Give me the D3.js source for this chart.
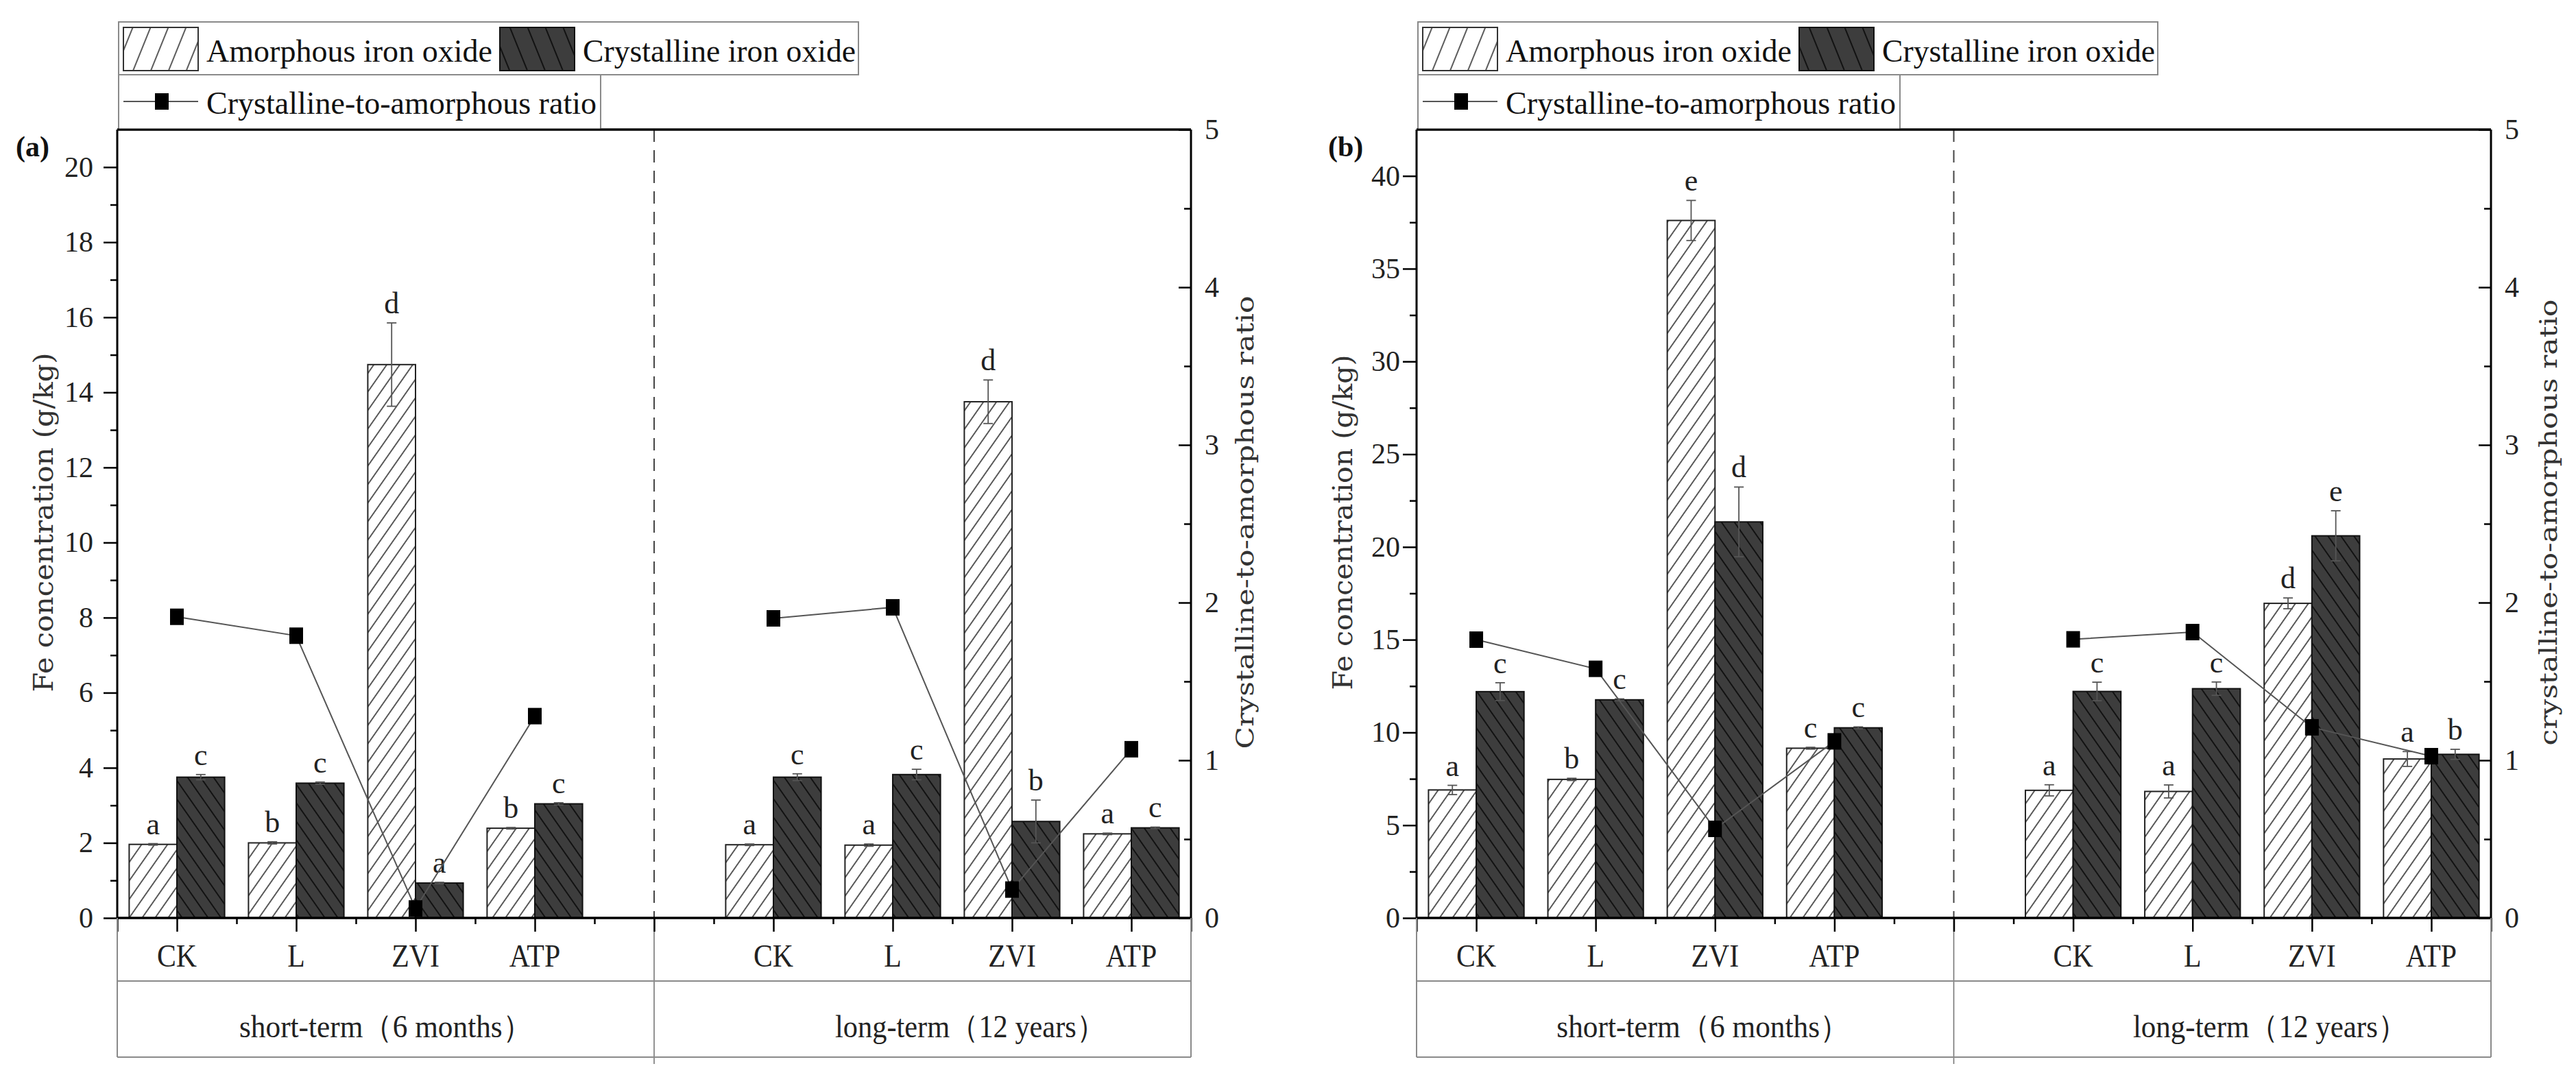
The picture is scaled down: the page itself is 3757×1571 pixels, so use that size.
<!DOCTYPE html>
<html><head><meta charset="utf-8">
<script src="https://cdn.jsdelivr.net/npm/d3@7"></script>
<style>body{margin:0;background:#fff} svg{display:block}</style>
</head><body>
<script>
// ---------- data ----------
const categories = ["CK", "L", "ZVI", "ATP"];
const groupLabels = ["short-term（6 months）", "long-term（12 years）"];
const xPositions = [1, 3, 5, 7, 11, 13, 15, 17];   // category slots (short-term 4, long-term 4)

// panel (a)
const aAmorph      = [1.96, 2.00, 14.74, 2.39,  1.95, 1.94, 13.75, 2.24];
const aAmorphErr   = [0.02, 0.03, 1.11, 0.02,   0.02, 0.03, 0.58, 0.02];
const aCryst       = [3.75, 3.59, 0.93, 3.04,   3.75, 3.82, 2.57, 2.40];
const aCrystErr    = [0.07, 0.03, 0.02, 0.03,   0.09, 0.14, 0.57, 0.02];
const aRatio       = [1.91, 1.79, 0.06, 1.28,   1.90, 1.97, 0.18, 1.07];
const aAmorphLetters = ["a", "b", "d", "b",  "a", "a", "d", "a"];
const aCrystLetters  = ["c", "c", "a", "c",  "c", "c", "b", "c"];
const aLeftMajor = [0, 2, 4, 6, 8, 10, 12, 14, 16, 18, 20];
const aLeftMinor = [1, 3, 5, 7, 9, 11, 13, 15, 17, 19];

// panel (b)
const bAmorph      = [6.90, 7.47, 37.60, 9.15,  6.88, 6.82, 16.96, 8.57];
const bAmorphErr   = [0.25, 0.06, 1.08, 0.05,   0.30, 0.35, 0.29, 0.40];
const bCryst       = [12.20, 11.76, 21.35, 10.25, 12.21, 12.36, 20.60, 8.82];
const bCrystErr    = [0.48, 0.05, 1.88, 0.05,   0.50, 0.36, 1.35, 0.27];
const bRatio       = [1.765, 1.58, 0.565, 1.12,  1.767, 1.813, 1.209, 1.026];
const bAmorphLetters = ["a", "b", "e", "c",  "a", "a", "d", "a"];
const bCrystLetters  = ["c", "c", "d", "c",  "c", "c", "e", "b"];
const bLeftMajor = [0, 5, 10, 15, 20, 25, 30, 35, 40];
const bLeftMinor = [2.5, 7.5, 12.5, 17.5, 22.5, 27.5, 32.5, 37.5];

const rightMajor = [0, 1, 2, 3, 4, 5];
const rightMinor = [0.5, 1.5, 2.5, 3.5, 4.5];
const xMajor = [0, 1, 3, 5, 7, 9, 11, 13, 15, 17, 18];
const xMinor = [2, 4, 6, 8, 10, 12, 14, 16];

const legendLabels = ["Amorphous iron oxide", "Crystalline iron oxide", "Crystalline-to-amorphous ratio"];
const leftTitle = "Fe concentration (g/kg)";

// ---------- layout ----------
const W = 3757, H = 1571;
const yTop = 189, yZero = 1339;
const SERIF = "'Liberation Serif','Times New Roman',serif";
const SERIF2 = "'DejaVu Serif',serif";

const svg = d3.select("body").append("svg").attr("width", W).attr("height", H)
  .style("background", "#fff");
const defs = svg.append("defs");
function hatch(id, angle, s, bg, fg, sw) {
  const p = defs.append("pattern").attr("id", id).attr("patternUnits", "userSpaceOnUse")
    .attr("width", s).attr("height", s).attr("patternTransform", `rotate(${angle})`);
  p.append("rect").attr("width", s).attr("height", s).attr("fill", bg);
  p.append("line").attr("x1", s / 2).attr("x2", s / 2).attr("y1", -2).attr("y2", s + 2)
    .attr("stroke", fg).attr("stroke-width", sw);
}
hatch("hA", 35, 15.5, "#fff", "#333", 1.6);
hatch("hC", -35, 15.5, "#3d3d3d", "#0d0d0d", 1.8);
hatch("hAL", 22, 24, "#fff", "#333", 1.6);
hatch("hCL", -22, 24, "#3d3d3d", "#0d0d0d", 1.8);

const panels = [
  { x0: 171, x1: 1737, yMax: 21, amorph: aAmorph, amorphErr: aAmorphErr, cryst: aCryst, crystErr: aCrystErr,
    ratio: aRatio, la: aAmorphLetters, lc: aCrystLetters, major: aLeftMajor, minor: aLeftMinor,
    tag: "(a)", tagX: 23, labelGap: 35, rightTitle: "Crystalline-to-amorphous ratio",
    leftLen: 495, rightLen: 661, rightOff: 78, shortAt: 4.5, longAt: 14.3, shortLen: 427, longLen: 394 },
  { x0: 2066, x1: 3633, yMax: 42.5, amorph: bAmorph, amorphErr: bAmorphErr, cryst: bCryst, crystErr: bCrystErr,
    ratio: bRatio, la: bAmorphLetters, lc: bCrystLetters, major: bLeftMajor, minor: bLeftMinor,
    tag: "(b)", tagX: 1937, labelGap: 24, rightTitle: "crystalline-to-amorphous ratio",
    leftLen: 489, rightLen: 651, rightOff: 83, shortAt: 4.8, longAt: 14.3, shortLen: 427, longLen: 400 }
];

function squeeze(sel, f) {
  sel.each(function () {
    const w = this.getComputedTextLength();
    d3.select(this).attr("textLength", w * f).attr("lengthAdjust", "spacingAndGlyphs");
  });
}

panels.forEach(P => {
  const g = svg.append("g");
  const x = d3.scaleLinear().domain([0, 18]).range([P.x0, P.x1]);
  const y = d3.scaleLinear().domain([0, P.yMax]).range([yZero, yTop]);
  const yR = d3.scaleLinear().domain([0, 5]).range([yZero, yTop]);
  const bw = x(0.8) - x(0);

  const rows = xPositions.map((p, i) => ({
    p, a: P.amorph[i], ae: P.amorphErr[i], c: P.cryst[i], ce: P.crystErr[i],
    r: P.ratio[i], la: P.la[i], lc: P.lc[i], cat: categories[i % 4]
  }));

  // bars
  g.selectAll(".ba").data(rows).join("rect")
    .attr("x", d => x(d.p) - bw).attr("width", bw)
    .attr("y", d => y(d.a)).attr("height", d => yZero - y(d.a))
    .attr("fill", "url(#hA)").attr("stroke", "#222").attr("stroke-width", 2);
  g.selectAll(".bc").data(rows).join("rect")
    .attr("x", d => x(d.p)).attr("width", bw)
    .attr("y", d => y(d.c)).attr("height", d => yZero - y(d.c))
    .attr("fill", "url(#hC)").attr("stroke", "#111").attr("stroke-width", 2);

  // error bars
  const errs = [];
  rows.forEach(d => {
    errs.push({ cx: x(d.p) - bw / 2, v: d.a, e: d.ae, l: d.la });
    errs.push({ cx: x(d.p) + bw / 2, v: d.c, e: d.ce, l: d.lc });
  });
  const eg = g.append("g").attr("stroke", "#555").attr("stroke-width", 1.8);
  errs.forEach(d => {
    eg.append("line").attr("x1", d.cx).attr("x2", d.cx).attr("y1", y(d.v - d.e)).attr("y2", y(d.v + d.e));
    eg.append("line").attr("x1", d.cx - 7).attr("x2", d.cx + 7).attr("y1", y(d.v + d.e)).attr("y2", y(d.v + d.e));
    eg.append("line").attr("x1", d.cx - 7).attr("x2", d.cx + 7).attr("y1", y(d.v - d.e)).attr("y2", y(d.v - d.e));
  });
  // letters
  g.selectAll(".lt").data(errs).join("text")
    .attr("x", d => d.cx).attr("y", d => y(d.v + d.e) - 14)
    .attr("text-anchor", "middle").attr("font-family", SERIF).attr("font-size", 44).attr("fill", "#222")
    .text(d => d.l);

  // separator
  g.append("line").attr("x1", x(9)).attr("x2", x(9)).attr("y1", yTop).attr("y2", yZero)
    .attr("stroke", "#444").attr("stroke-width", 2).attr("stroke-dasharray", "18,12");
  g.append("line").attr("x1", x(9)).attr("x2", x(9)).attr("y1", yZero).attr("y2", 1552)
    .attr("stroke", "#777").attr("stroke-width", 1.6);

  // ratio lines + markers
  const line = d3.line().x(d => x(d.p)).y(d => yR(d.r));
  [rows.slice(0, 4), rows.slice(4)].forEach(seg => {
    g.append("path").attr("d", line(seg)).attr("fill", "none").attr("stroke", "#555").attr("stroke-width", 2);
  });
  g.selectAll(".mk").data(rows).join("rect")
    .attr("x", d => x(d.p) - 10).attr("y", d => yR(d.r) - 12).attr("width", 20).attr("height", 24)
    .attr("fill", "#000");

  // axes ticks
  function styleAxis(sel, fs) {
    sel.select(".domain").remove();
    sel.attr("color", "#000");
    sel.selectAll(".tick line").attr("stroke-width", 2.5);
    sel.selectAll("text").attr("font-family", SERIF).attr("font-size", fs).attr("fill", "#222");
  }
  g.append("g").attr("transform", `translate(${P.x0},0)`)
    .call(d3.axisLeft(y).tickValues(P.major).tickSize(20).tickPadding(P.labelGap - 20).tickFormat(d3.format("d")))
    .call(s => styleAxis(s, 42));
  g.append("g").attr("transform", `translate(${P.x0},0)`)
    .call(d3.axisLeft(y).tickValues(P.minor).tickSize(10).tickFormat(""))
    .call(s => styleAxis(s, 42));
  g.append("g").attr("transform", `translate(${P.x1},0)`)
    .call(d3.axisRight(yR).tickValues(rightMajor).tickSizeInner(-18).tickSizeOuter(0).tickPadding(20).tickFormat(d3.format("d")))
    .call(s => styleAxis(s, 42));
  g.append("g").attr("transform", `translate(${P.x1},0)`)
    .call(d3.axisRight(yR).tickValues(rightMinor).tickSizeInner(-10).tickSizeOuter(0).tickFormat(""))
    .call(s => styleAxis(s, 42));
  g.append("g").attr("transform", `translate(0,${yZero})`)
    .call(d3.axisBottom(x).tickValues(xMajor).tickSize(20).tickFormat(""))
    .call(s => styleAxis(s, 42));
  g.append("g").attr("transform", `translate(0,${yZero})`)
    .call(d3.axisBottom(x).tickValues(xMinor).tickSize(9).tickFormat(""))
    .call(s => styleAxis(s, 42));

  // frame lines
  const fl = g.append("g").attr("stroke", "#000");
  fl.append("line").attr("x1", P.x0).attr("x2", P.x0).attr("y1", yTop).attr("y2", yZero).attr("stroke-width", 3);
  fl.append("line").attr("x1", P.x1).attr("x2", P.x1).attr("y1", yTop).attr("y2", yZero).attr("stroke-width", 3);
  fl.append("line").attr("x1", P.x0).attr("x2", P.x1).attr("y1", yTop).attr("y2", yTop).attr("stroke-width", 3);
  fl.append("line").attr("x1", P.x0 - 1).attr("x2", P.x1 + 1).attr("y1", yZero).attr("y2", yZero).attr("stroke-width", 3.5);

  // category box
  const cb = g.append("g").attr("stroke", "#8a8a8a").attr("stroke-width", 2);
  cb.append("line").attr("x1", P.x0).attr("x2", P.x0).attr("y1", yZero).attr("y2", 1542);
  cb.append("line").attr("x1", P.x1).attr("x2", P.x1).attr("y1", yZero).attr("y2", 1542);
  cb.append("line").attr("x1", P.x0).attr("x2", P.x1).attr("y1", 1431).attr("y2", 1431);
  cb.append("line").attr("x1", P.x0).attr("x2", P.x1).attr("y1", 1542).attr("y2", 1542);

  g.selectAll(".cat").data(rows).join("text")
    .attr("x", d => x(d.p)).attr("y", 1410).attr("text-anchor", "middle")
    .attr("font-family", SERIF).attr("font-size", 47).attr("fill", "#222").text(d => d.cat)
    .call(s => squeeze(s, 0.89));
  g.append("text").attr("x", x(P.shortAt)).attr("y", 1513).attr("text-anchor", "middle")
    .attr("font-family", SERIF).attr("font-size", 46).attr("fill", "#222")
    .attr("textLength", P.shortLen).attr("lengthAdjust", "spacingAndGlyphs").text(groupLabels[0]);
  g.append("text").attr("x", x(P.longAt)).attr("y", 1513).attr("text-anchor", "middle")
    .attr("font-family", SERIF).attr("font-size", 46).attr("fill", "#222")
    .attr("textLength", P.longLen).attr("lengthAdjust", "spacingAndGlyphs").text(groupLabels[1]);

  // titles
  g.append("text").attr("transform", `translate(${P.x0 - 108},762) rotate(-90)`)
    .attr("text-anchor", "middle").attr("dominant-baseline", "central")
    .attr("font-family", SERIF2).attr("font-size", 40).attr("fill", "#333")
    .attr("textLength", P.leftLen).attr("lengthAdjust", "spacingAndGlyphs").text(leftTitle);
  g.append("text").attr("transform", `translate(${P.x1 + P.rightOff},762) rotate(-90)`)
    .attr("text-anchor", "middle").attr("dominant-baseline", "central")
    .attr("font-family", SERIF2).attr("font-size", 36).attr("fill", "#333")
    .attr("textLength", P.rightLen).attr("lengthAdjust", "spacingAndGlyphs").text(P.rightTitle);
  g.append("text").attr("x", P.tagX).attr("y", 228).attr("font-family", SERIF).attr("font-weight", "bold")
    .attr("font-size", 42).attr("fill", "#111").text(P.tag);

  // legend
  const L = g.append("g").attr("transform", `translate(${P.x0},0)`);
  L.append("rect").attr("x", 2).attr("y", 32).attr("width", 1079).attr("height", 77)
    .attr("fill", "#fff").attr("stroke", "#8a8a8a").attr("stroke-width", 2);
  L.append("rect").attr("x", 2).attr("y", 109).attr("width", 703).attr("height", yTop - 109)
    .attr("fill", "#fff").attr("stroke", "#8a8a8a").attr("stroke-width", 2);
  L.append("rect").attr("x", 9).attr("y", 40).attr("width", 109).attr("height", 63)
    .attr("fill", "url(#hAL)").attr("stroke", "#333").attr("stroke-width", 2);
  L.append("rect").attr("x", 558).attr("y", 40).attr("width", 109).attr("height", 63)
    .attr("fill", "url(#hCL)").attr("stroke", "#111").attr("stroke-width", 2);
  L.append("line").attr("x1", 9).attr("x2", 118).attr("y1", 148).attr("y2", 148)
    .attr("stroke", "#555").attr("stroke-width", 2);
  L.append("rect").attr("x", 55).attr("y", 136).attr("width", 20).attr("height", 24).attr("fill", "#000");
  const lt = [[130, 90, 417, legendLabels[0]], [679, 90, 398, legendLabels[1]], [130, 166, 569, legendLabels[2]]];
  lt.forEach(([tx, ty, tl, s]) => {
    L.append("text").attr("x", tx).attr("y", ty).attr("font-family", SERIF).attr("font-size", 47)
      .attr("fill", "#111").attr("textLength", tl).attr("lengthAdjust", "spacingAndGlyphs").text(s);
  });
  // redraw top frame line over legend bottom
  g.append("line").attr("x1", P.x0).attr("x2", P.x1).attr("y1", yTop).attr("y2", yTop)
    .attr("stroke", "#000").attr("stroke-width", 3);
});
</script>
</body></html>
